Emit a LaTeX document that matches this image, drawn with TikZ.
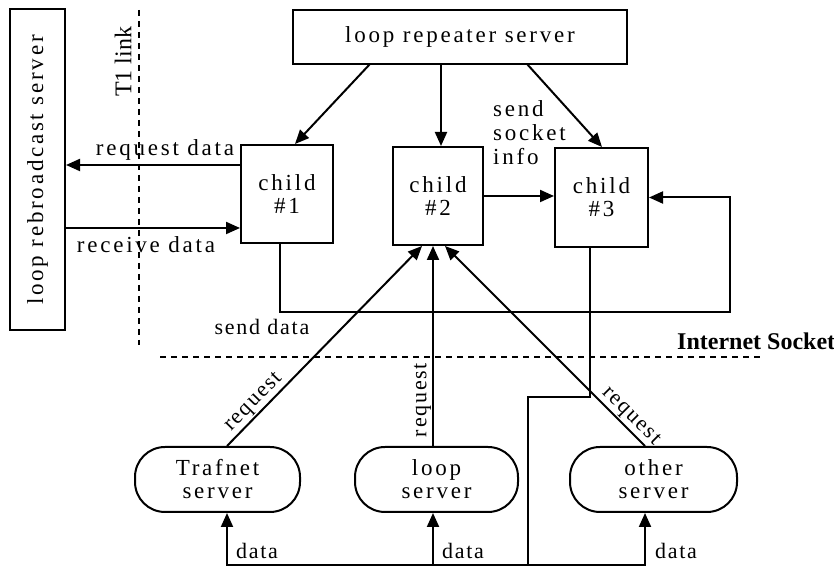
\documentclass[tikz,border=0pt]{standalone}
\usepackage{fontspec}
\setmainfont{Liberation Serif}
\newfontfamily\spaced[LetterSpace=12]{Liberation Serif}
\newfontfamily\lspaced[LetterSpace=8]{Liberation Serif}
\usetikzlibrary{arrows.meta,calc}
\tikzset{
  box/.style={draw,line width=2pt,inner sep=0pt,align=center,font=\fontsize{23}{23}\spaced},
  srv/.style={box,rounded corners=30pt},
  ln/.style={line width=2pt},
  arr/.style={ln,-{Triangle[length=14pt,width=12pt]}},
  dsh/.style={line width=2.2pt,dash pattern=on 6pt off 5pt},
  lbl/.style={font=\fontsize{23}{23}\spaced,inner sep=1pt},
  rq/.style={font=\fontsize{22}{22}\lspaced,inner sep=1pt},
  dl/.style={font=\fontsize{22}{22}\lspaced,inner sep=1pt}
}
\begin{document}
\begin{tikzpicture}[x=1pt,y=1pt]
\useasboundingbox (0,0) rectangle (834,569);
% nodes
\node[box,minimum width=321pt,minimum height=55pt,rotate=90] (lrb) at (37.5,399) {loop rebroadcast server};
\node[box,minimum width=334pt,minimum height=54pt] (rep) at (460,532) {loop repeater server};
\node[box,minimum width=92pt,minimum height=98pt] (c1) at (287,375) {child\\\#1};
\node[box,minimum width=90pt,minimum height=98pt] (c2) at (438,373) {child\\\#2};
\node[box,minimum width=93pt,minimum height=99pt] (c3) at (601.5,371.5) {child\\\#3};
\node[srv,minimum width=165pt,minimum height=65pt] (tr) at (217.5,89.5) {Trafnet\\server};
\node[srv,minimum width=163pt,minimum height=65pt] (lp) at (436.5,89.5) {loop\\server};
\node[srv,minimum width=167pt,minimum height=65pt] (ot) at (653.5,89.5) {other\\server};
% dashed boundaries
\coordinate (t1a) at (139,559);
\coordinate (t1b) at (139,224);
\draw[dsh] (t1a) -- (t1b);
\coordinate (isa) at (160,212);
\coordinate (isb) at (760,212);
\draw[dsh] (isa) -- (isb);
\node[font=\fontsize{24}{24}\selectfont,rotate=90,inner sep=0pt] (t1) at (123,507) {T1 link};
\node[font=\fontsize{24}{24}\bfseries,anchor=west,inner sep=0pt] (is) at (677,228) {Internet Socket};
% repeater to children
\coordinate (e1) at ($(c1.north)+(8,0)$);
\draw[arr] (370,505) -- (e1);
\coordinate (e2) at ($(c2.north)+(3,0)$);
\draw[arr] (e2 |- rep.south) -- (e2);
\coordinate (e3) at ($(c3.north)+(0.5,0)$);
\draw[arr] (527,505) -- (e3);
% child1 <-> rebroadcast
\coordinate (q1) at ($(c1.west)+(0,29)$);
\draw[arr] (q1) -- (q1 -| lrb.south);
\coordinate (r1) at ($(c1.west)+(0,-34)$);
\draw[arr] (r1 -| lrb.south) -- (r1);
\node[lbl] (rqd) at (165,419) {request data};
\node[lbl] (rcd) at (146,324) {receive data};
% child2 -> child3
\draw[arr] (c2.east) -- (c2.east -| c3.west);
\node[lbl,align=left,anchor=north west,font=\fontsize{23}{24}\spaced] (ssi) at (492,470) {send\\socket\\info};
% send data loop
\coordinate (s1) at ($(c1.south)+(-7,0)$);
\coordinate (sc) at (730,257);
\draw[arr] (s1) |- (sc) |- (c3.east);
\node[dl] (sd) at (262,242) {send data};
% child3 data to servers
\coordinate (d0) at ($(c3.south)+(-11.5,0)$);
\coordinate (dj) at (528,172);
\coordinate (db) at (528,4);
\draw[ln] (d0) |- (dj) -- (db);
\coordinate (dt) at ($(tr.south)+(9.5,0)$);
\coordinate (dl) at ($(lp.south)+(-3.5,0)$);
\coordinate (do) at ($(ot.south)+(-8.5,0)$);
\draw[arr] (db) -| (dt);
\draw[arr] (db) -| (do);
\draw[arr] (dl |- db) -- (dl);
\node[dl] (dtl) at (257,18) {data};
\node[dl] (dll) at (463,18) {data};
\node[dl] (dol) at (676,18) {data};
% requests to child2
\coordinate (rt) at (tr.north -| dt);
\coordinate (rl) at (lp.north -| dl);
\coordinate (ro) at (ot.north -| do);
\draw[arr] (rt) -- node[rq,sloped,above,pos=0.18] {request} ($(c2.south)+(-16,0)$);
\draw[arr] (rl) -- node[rq,sloped,above,pos=0.23] {request} (rl |- c2.south);
\draw[arr] (ro) -- node[rq,sloped,above,pos=0.11] {request} ($(c2.south)+(7,0)$);
\end{tikzpicture}
\end{document}
